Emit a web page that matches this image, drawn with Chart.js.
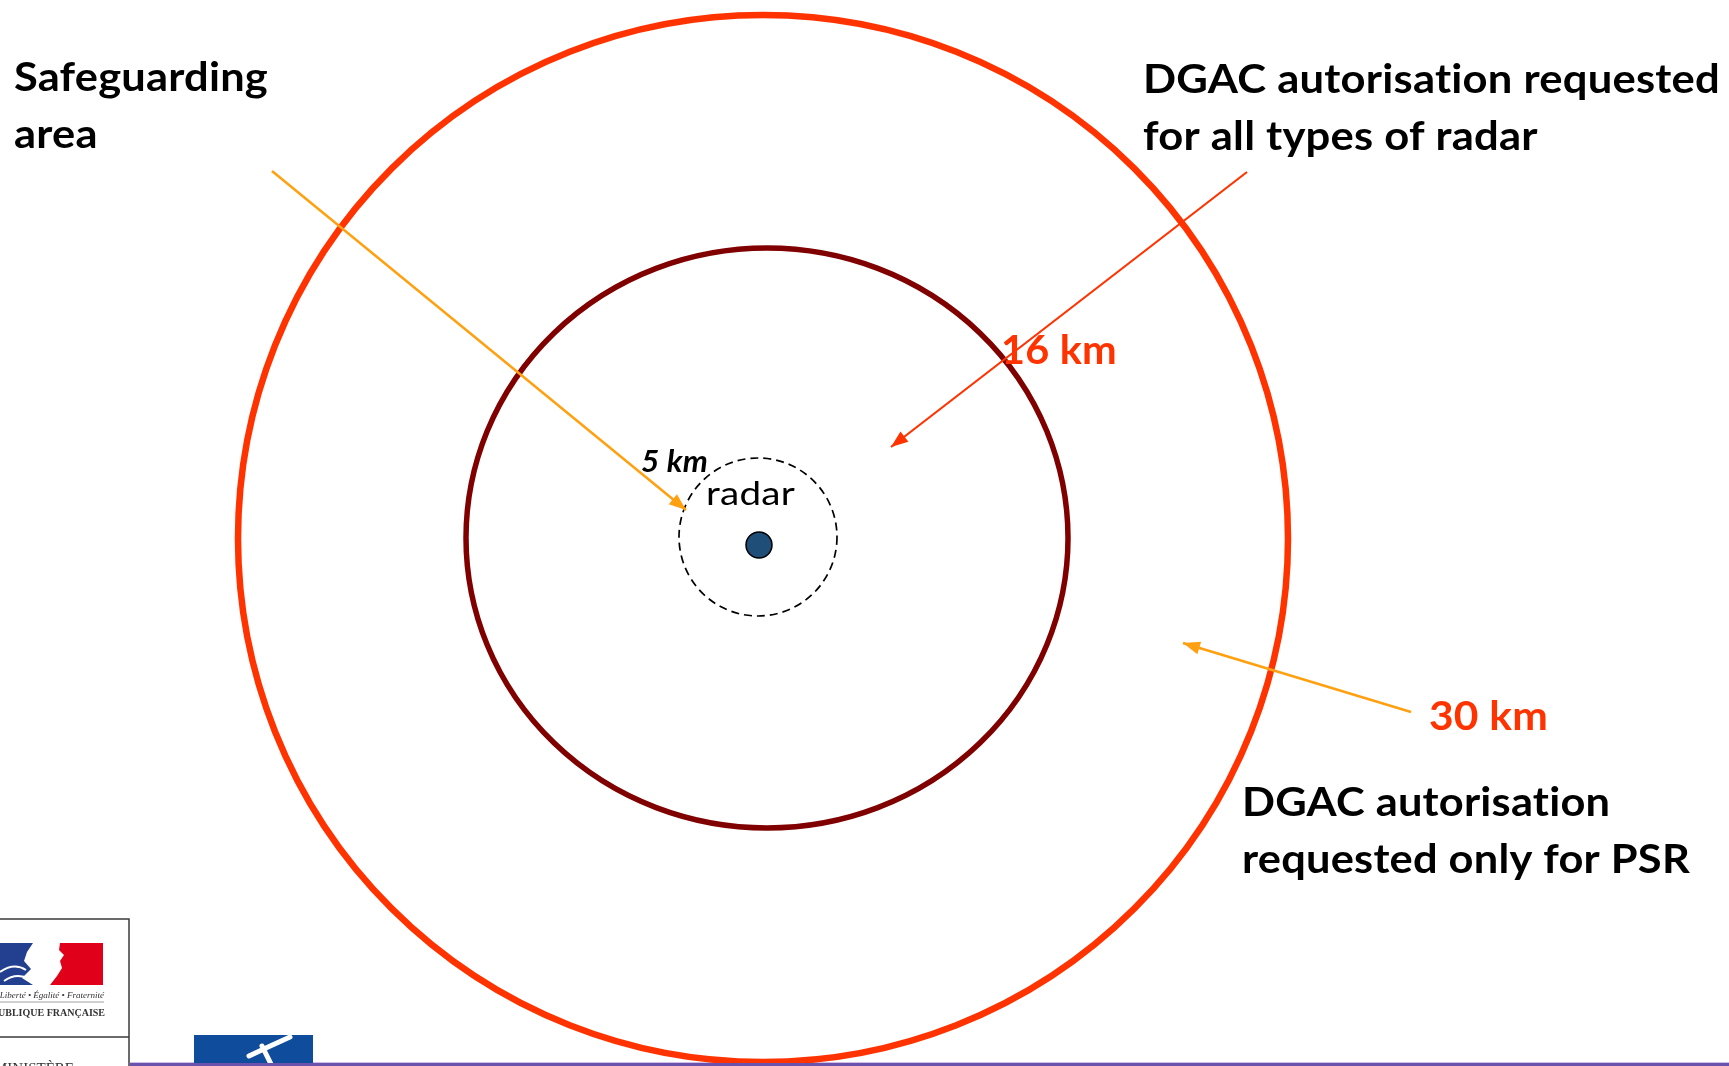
<!DOCTYPE html>
<html>
<head>
<meta charset="utf-8">
<title>Radar safeguarding zones</title>
<script src="https://cdn.jsdelivr.net/npm/chart.js@4.4.1/dist/chart.umd.min.js"></script>
<style>
  html, body { margin: 0; padding: 0; background: #fff; overflow: hidden; }
  #wrap { width: 1729px; height: 1066px; }
</style>
</head>
<body>
<div id="wrap"><canvas id="myChart" width="1729" height="1066"></canvas></div>
<script>
// ---- data (diagram units = pixels of the original slide) ----
let zoneNames = ["30 km", "16 km", "5 km"]
let zoneCx = [763, 767, 758]
let zoneCy = [538.5, 538, 537]
let zoneRx = [525, 301, 79]
let zoneRy = [523.5, 290, 79]

let radarX = [759]
let radarY = [545]

// arrows : start -> tip
let arrowFromX = [272, 1247, 1411]
let arrowFromY = [171, 172, 712]
let arrowToX = [686, 891, 1183]
let arrowToY = [510, 447, 643]

let labelText = [
  ["Safeguarding", "area"],
  ["DGAC autorisation requested", "for all types of radar"],
  ["16 km"],
  ["30 km"],
  ["DGAC autorisation", "requested only for PSR"],
  ["5 km"],
  ["radar"]
]

// ---- styles / layout ----
const ringColors = ["#ff3300", "#800000", "#000000"]
const ringWidths = [6.5, 5.5, 1.7]
const ringDash = [[], [], [8, 5]]
const arrowColors = ["#ffa010", "#ff3300", "#ffa010"]

// x, first baseline, line gap, cap height, width of the widest line, style, colour
const labelLayout = [
  { x: 14, y: 91, gap: 57, cap: 29, w: 254, style: "bold", color: "#000" },
  { x: 1143, y: 93, gap: 57, cap: 29, w: 577, style: "bold", color: "#000" },
  { x: 1001, y: 364, gap: 0, cap: 29, w: 116, style: "bold", color: "#ff3300" },
  { x: 1429, y: 730, gap: 0, cap: 29, w: 119, style: "bold", color: "#ff3300" },
  { x: 1242, y: 816, gap: 57, cap: 29, w: 448, style: "bold", color: "#000" },
  { x: 641, y: 472, gap: 0, cap: 22, w: 67, style: "italic bold", color: "#000" },
  { x: 706, y: 505, gap: 0, cap: 24, w: 89, style: "normal", color: "#000" }
]

// ---- plugins ----
const ringsPlugin = {
  id: "rings",
  beforeDatasetsDraw(chart) {
    const { ctx, scales: { x, y } } = chart
    // purple rule at the foot of the slide
    ctx.fillStyle = "#cdbfe8"
    ctx.fillRect(130, 1062, 1599, 1)
    ctx.fillStyle = "#6b52ad"
    ctx.fillRect(130, 1063, 1599, 3)

    zoneCx.forEach((cx, i) => {
      const px = x.getPixelForValue(cx)
      const py = y.getPixelForValue(zoneCy[i])
      const rx = Math.abs(x.getPixelForValue(cx + zoneRx[i]) - px)
      const ry = Math.abs(y.getPixelForValue(zoneCy[i] + zoneRy[i]) - py)
      ctx.save()
      ctx.beginPath()
      ctx.ellipse(px, py, rx, ry, 0, 0, Math.PI * 2)
      ctx.strokeStyle = ringColors[i]
      ctx.lineWidth = ringWidths[i]
      ctx.setLineDash(ringDash[i])
      ctx.stroke()
      ctx.restore()
    })
  }
}

const arrowHeads = {
  id: "arrowHeads",
  afterDatasetsDraw(chart) {
    const ctx = chart.ctx
    arrowFromX.forEach((_, i) => {
      const meta = chart.getDatasetMeta(i)
      const a = meta.data[0], b = meta.data[1]
      const ang = Math.atan2(b.y - a.y, b.x - a.x)
      const len = 17, half = 6.5
      ctx.save()
      ctx.translate(b.x, b.y)
      ctx.rotate(ang)
      ctx.beginPath()
      ctx.moveTo(0, 0)
      ctx.lineTo(-len, -half)
      ctx.lineTo(-len, half)
      ctx.closePath()
      ctx.fillStyle = arrowColors[i]
      ctx.fill()
      ctx.restore()
    })
  }
}

function fontFor(style, size) {
  return `${style} ${size}px Lato, "Open Sans", sans-serif`
}

const labelsPlugin = {
  id: "labels",
  afterDatasetsDraw(chart) {
    const ctx = chart.ctx
    ctx.save()
    // a tiny letter spacing switches off the "ti" ligature of Lato
    if ("letterSpacing" in ctx) ctx.letterSpacing = "0.2px"
    labelText.forEach((lines, i) => {
      const L = labelLayout[i]
      ctx.font = fontFor(L.style, 100)
      const capRef = ctx.measureText("H").actualBoundingBoxAscent
      const size = 100 * L.cap / capRef
      ctx.font = fontFor(L.style, size)
      let widest = 0
      lines.forEach(t => { widest = Math.max(widest, ctx.measureText(t).width) })
      const sx = L.w / widest
      ctx.fillStyle = L.color
      ctx.textBaseline = "alphabetic"
      ctx.textAlign = "left"
      lines.forEach((t, k) => {
        ctx.save()
        ctx.translate(L.x, L.y + k * L.gap)
        ctx.scale(sx, 1)
        ctx.fillText(t, 0, 0)
        ctx.restore()
      })
    })
    ctx.restore()
  }
}

const logosPlugin = {
  id: "logos",
  afterDraw(chart) {
    const ctx = chart.ctx
    ctx.save()
    // Marianne block
    ctx.strokeStyle = "#3a3a3a"
    ctx.lineWidth = 1.5
    ctx.strokeRect(-2, 919, 131, 170)
    ctx.beginPath()
    ctx.moveTo(0, 1037); ctx.lineTo(129, 1037)
    ctx.stroke()

    ctx.fillStyle = "#22408f"
    ctx.beginPath()
    ctx.moveTo(0, 943); ctx.lineTo(33, 943); ctx.lineTo(27, 952); ctx.lineTo(24, 961)
    ctx.lineTo(31, 969); ctx.lineTo(22, 978); ctx.lineTo(33, 985); ctx.lineTo(0, 985)
    ctx.closePath(); ctx.fill()
    ctx.strokeStyle = "#fff"; ctx.lineWidth = 2
    ctx.beginPath()
    ctx.moveTo(0, 972); ctx.quadraticCurveTo(14, 962, 26, 970)
    ctx.moveTo(4, 981); ctx.quadraticCurveTo(16, 972, 30, 979)
    ctx.stroke()

    ctx.fillStyle = "#e1001a"
    ctx.beginPath()
    ctx.moveTo(60, 943); ctx.lineTo(103, 943); ctx.lineTo(103, 985); ctx.lineTo(50, 985)
    ctx.lineTo(57, 976); ctx.lineTo(62, 968); ctx.lineTo(60, 961); ctx.lineTo(64, 955)
    ctx.lineTo(59, 950); ctx.closePath(); ctx.fill()

    ctx.fillStyle = "#333"
    ctx.textAlign = "right"
    ctx.font = 'italic 9px "Liberation Serif", serif'
    ctx.fillText("Liberté • Égalité • Fraternité", 104, 998)
    ctx.strokeStyle = "#888"; ctx.lineWidth = 0.8
    ctx.beginPath(); ctx.moveTo(0, 1002); ctx.lineTo(104, 1002); ctx.stroke()
    ctx.font = 'bold 10px "Liberation Serif", serif'
    ctx.fillText("RÉPUBLIQUE FRANÇAISE", 105, 1016)
    ctx.textAlign = "left"
    ctx.font = '15px "Liberation Serif", serif'
    ctx.fillText("MINISTÈRE", -6, 1073)

    // second logo
    ctx.fillStyle = "#0f4c9c"
    ctx.fillRect(194, 1035, 119, 31)
    ctx.strokeStyle = "#fff"; ctx.lineWidth = 5; ctx.lineCap = "round"
    ctx.beginPath()
    ctx.moveTo(249, 1056); ctx.quadraticCurveTo(270, 1046, 290, 1037)
    ctx.moveTo(262, 1046); ctx.lineTo(272, 1066)
    ctx.stroke()

    // rule passes over the logo
    ctx.fillStyle = "#6b52ad"
    ctx.fillRect(130, 1063, 1599, 3)
    ctx.restore()
  }
}

// ---- chart ----
const arrowSets = arrowFromX.map((fx, i) => ({
  data: [{ x: fx, y: arrowFromY[i] }, { x: arrowToX[i], y: arrowToY[i] }],
  showLine: true,
  borderColor: arrowColors[i],
  borderWidth: i === 1 ? 2.2 : 2.5,
  pointRadius: 0
}))

const ctx = document.getElementById("myChart").getContext("2d")
const myChart = new Chart(ctx, {
  type: "scatter",
  data: {
    datasets: [
      ...arrowSets,
      {
        label: "radar",
        data: radarX.map((x, i) => ({ x: x, y: radarY[i] })),
        pointRadius: 13,
        backgroundColor: "#1f4e79",
        borderColor: "#000",
        borderWidth: 1.5
      }
    ]
  },
  options: {
    responsive: false,
    maintainAspectRatio: false,
    animation: false,
    events: [],
    layout: { padding: 0, autoPadding: false },
    plugins: { legend: { display: false }, tooltip: { enabled: false } },
    scales: {
      x: { type: "linear", min: 0, max: 1729, display: false },
      y: { type: "linear", min: 0, max: 1066, reverse: true, display: false }
    }
  },
  plugins: [ringsPlugin, arrowHeads, labelsPlugin, logosPlugin]
})
</script>
</body>
</html>
